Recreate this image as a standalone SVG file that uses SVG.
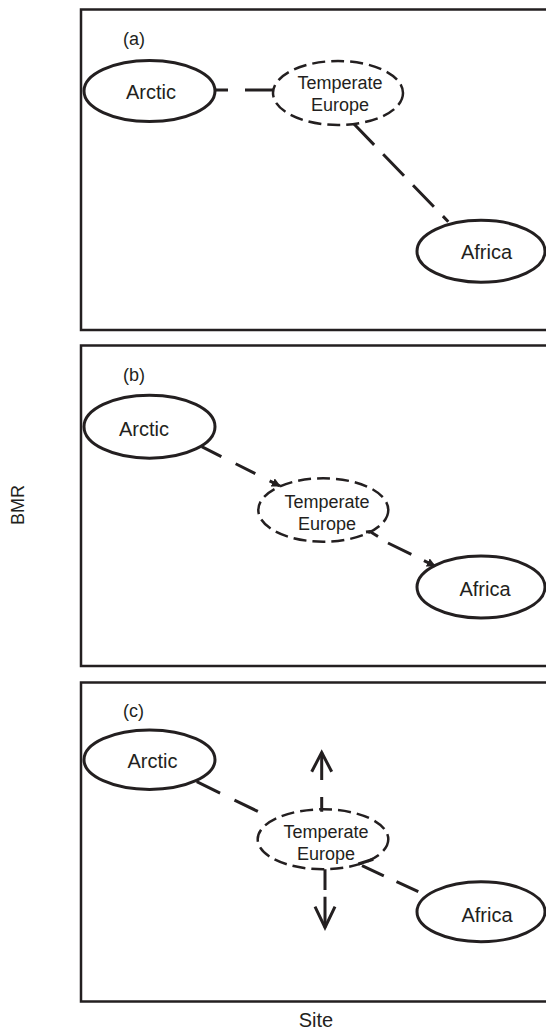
<svg xmlns="http://www.w3.org/2000/svg" width="546" height="1030" viewBox="0 0 546 1030">
<style>
  .frame{fill:none;stroke:#231f20;stroke-width:2.5}
  .solid{fill:#fff;stroke:#231f20;stroke-width:3}
  .dash{fill:#fff;stroke:#231f20;stroke-width:2.5;stroke-dasharray:13 6}
  .lbl{font-family:"Liberation Sans",Arial,sans-serif;fill:#231f20;text-anchor:middle}
  .big{font-size:20px}
  .sm{font-size:18px}
  .tag{font-family:"Liberation Sans",Arial,sans-serif;fill:#231f20;font-size:18px}
  .conn{fill:none;stroke:#231f20;stroke-width:3}
  .cd{stroke-dasharray:30 13}
</style>
<defs>
  <marker id="tri" viewBox="0 0 10 10" refX="9" refY="5" markerWidth="3" markerHeight="3" orient="auto" markerUnits="strokeWidth">
    <path d="M0,0 L10,5 L0,10 z" fill="#231f20"/>
  </marker>
</defs>
<rect width="546" height="1030" fill="#fff"/>
<g id="frames">
  <rect class="frame" x="81" y="9.5" width="480" height="320.5"/>
  <rect class="frame" x="81" y="345.5" width="480" height="320.5"/>
  <rect class="frame" x="81" y="682.5" width="480" height="319"/>
</g>
<g id="axes">
  <text class="lbl" x="316" y="1027" font-size="20">Site</text>
  <text class="lbl" transform="translate(24,505) rotate(-90)" font-size="18">BMR</text>
  <text class="tag" x="123" y="45">(a)</text>
  <text class="tag" x="123" y="381">(b)</text>
  <text class="tag" x="123" y="717">(c)</text>
</g>
<g id="connectors">
  <path class="conn" d="M215,90 H228 M245,90 H274"/>
  <path class="conn cd" d="M353.3,123.3 L448.3,221.7"/>
  <path class="conn" style="stroke-dasharray:22 16" d="M201.7,446.7 L280,486" marker-end="url(#tri)"/>
  <path class="conn" d="M366,532 L370,531.5 L378,536.5"/>
  <path class="conn" style="stroke-dasharray:26 14" d="M388,543 L435,566" marker-end="url(#tri)"/>
  <path class="conn" style="stroke-dasharray:26 16" d="M196.7,781.7 L261.7,813.3"/>
  <path class="conn" style="stroke-dasharray:24 14" d="M418.3,891.7 L358.3,864"/>
  <path class="conn" d="M373.3,859.3 L358.3,864"/>
  <path class="conn" d="M321.7,811.7 V797 M321.7,780 V752.5"/>
  <path class="conn" d="M311.7,771.7 L321.7,752.5 L331.7,771.7"/>
  <path class="conn" d="M325,869.3 V890 M325,896.7 V927.5"/>
  <path class="conn" d="M315,906.7 L325,927.5 L335,906.7"/>
</g>
<g id="a-arctic">
  <ellipse class="solid" cx="149.5" cy="91" rx="65.5" ry="30.5"/>
  <text class="lbl big" x="151" y="99">Arctic</text>
</g>
<g id="a-temperate">
  <ellipse class="dash" cx="338" cy="93" rx="65" ry="32"/>
  <text class="lbl sm" x="340" y="89">Temperate</text>
  <text class="lbl sm" x="340" y="111">Europe</text>
</g>
<g id="a-africa">
  <ellipse class="solid" cx="481" cy="251.3" rx="64" ry="31"/>
  <text class="lbl big" x="486.5" y="259">Africa</text>
</g>
<g id="b-arctic">
  <ellipse class="solid" cx="149.5" cy="426.7" rx="65.5" ry="31.5"/>
  <text class="lbl big" x="144" y="435.5">Arctic</text>
</g>
<g id="b-temperate">
  <ellipse class="dash" cx="323.3" cy="510" rx="65" ry="31.7" fill="none" style="fill:none"/>
  <text class="lbl sm" x="327" y="508">Temperate</text>
  <text class="lbl sm" x="327" y="530">Europe</text>
</g>
<g id="b-africa">
  <ellipse class="solid" cx="481" cy="587" rx="64" ry="31" style="fill:none"/>
  <text class="lbl big" x="485" y="595.5">Africa</text>
</g>
<g id="c-arctic">
  <ellipse class="solid" cx="149.5" cy="759.7" rx="65.5" ry="29.7"/>
  <text class="lbl big" x="152.5" y="768">Arctic</text>
</g>
<g id="c-temperate">
  <ellipse class="dash" cx="323" cy="839.3" rx="65.3" ry="30" style="fill:none"/>
  <text class="lbl sm" x="326" y="838">Temperate</text>
  <text class="lbl sm" x="326" y="860">Europe</text>
</g>
<g id="c-africa">
  <ellipse class="solid" cx="481" cy="911.7" rx="64" ry="30"/>
  <text class="lbl big" x="487" y="922">Africa</text>
</g>
</svg>
